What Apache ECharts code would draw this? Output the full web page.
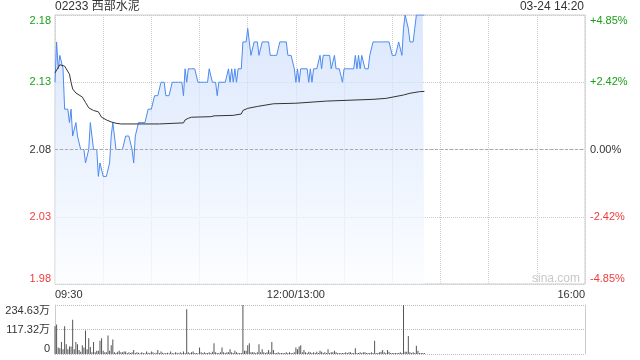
<!DOCTYPE html>
<html><head><meta charset="utf-8">
<script src="https://cdn.jsdelivr.net/npm/echarts@6/dist/echarts.min.js"></script>
<style>html,body{margin:0;padding:0;background:#fff}#c{width:640px;height:360px}</style>
</head><body><div id="c"></div>
<script>
const stockTitle = '02233 西部水泥';
const stamp = '03-24 14:20';
const prevClose = 2.08;
const timeTickMinutes = [0, 150, 330];
const timeTickLabels = ['09:30', '12:00/13:00', '16:00'];
const priceLabels = ['1.98', '2.03', '2.08', '2.13', '2.18'];
const pctLabels = ['-4.85%', '-2.42%', '0.00%', '+2.42%', '+4.85%'];
const volLabels = ['0', '117.32万', '234.63万'];

// price per minute from 09:30 (index = minutes of trading)
const price = [
2.13,2.16,2.14,2.15,2.15,2.14,2.11,2.11,2.11,2.10,
2.11,2.09,2.09,2.10,2.09,2.09,2.08,2.08,2.08,2.07,
2.07,2.08,2.10,2.10,2.08,2.08,2.08,2.06,2.07,2.07,
2.06,2.06,2.06,2.06,2.07,2.09,2.10,2.09,2.08,2.08,
2.08,2.08,2.08,2.08,2.09,2.09,2.09,2.09,2.08,2.07,
2.09,2.09,2.10,2.10,2.10,2.10,2.10,2.10,2.11,2.11,
2.11,2.11,2.12,2.12,2.12,2.12,2.13,2.13,2.13,2.12,
2.12,2.12,2.12,2.13,2.13,2.13,2.13,2.13,2.13,2.13,
2.12,2.14,2.13,2.14,2.14,2.14,2.14,2.14,2.14,2.13,
2.13,2.13,2.13,2.13,2.13,2.13,2.14,2.14,2.13,2.13,
2.13,2.12,2.13,2.13,2.13,2.13,2.13,2.13,2.14,2.13,
2.14,2.13,2.14,2.13,2.14,2.14,2.14,2.16,2.16,2.16,
2.17,2.16,2.15,2.15,2.16,2.16,2.16,2.15,2.15,2.16,
2.16,2.16,2.16,2.16,2.15,2.15,2.15,2.15,2.15,2.15,
2.16,2.16,2.16,2.16,2.16,2.15,2.15,2.15,2.15,2.14,
2.13,2.14,2.13,2.14,2.14,2.14,2.14,2.14,2.13,2.14,
2.13,2.14,2.14,2.14,2.14,2.15,2.14,2.15,2.15,2.15,
2.15,2.15,2.14,2.14,2.15,2.14,2.14,2.14,2.14,2.13,
2.14,2.14,2.14,2.14,2.14,2.14,2.14,2.15,2.14,2.15,
2.14,2.15,2.15,2.14,2.14,2.14,2.15,2.15,2.16,2.16,
2.16,2.16,2.16,2.16,2.16,2.16,2.16,2.16,2.16,2.16,
2.15,2.15,2.15,2.15,2.16,2.16,2.15,2.17,2.18,2.18,
2.17,2.16,2.16,2.16,2.17,2.18,2.18,2.18,2.18,2.18,
2.18
];

const avgMinutes = [0,3,6,9,10,11,13,17,19,21,24,27,29,32,35,38,41,65,66,80,81,83,85,97,99,111,112,116,117,120,126,136,150,169,198,206,217,221,227,230];
const avgValues = [2.137,2.143,2.142,2.136,2.130,2.125,2.122,2.119,2.115,2.111,2.109,2.108,2.104,2.102,2.1005,2.0995,2.099,2.099,2.0998,2.0998,2.102,2.1032,2.104,2.1044,2.105,2.1054,2.106,2.1064,2.109,2.1106,2.112,2.114,2.1144,2.116,2.1173,2.118,2.1205,2.1218,2.123,2.1232];

// volume per minute, in 万
const volume = [
133,141,31,27,58,23,133,47,23,36,
36,164,23,58,47,19,11,42,31,113,
23,75,34,8,58,8,16,16,63,75,
16,8,8,89,16,42,70,8,5,11,
16,8,8,12,12,5,8,5,8,19,
5,8,6,4,8,5,4,12,6,5,
12,8,4,6,19,5,12,6,4,5,
6,4,12,5,4,8,6,4,8,5,
12,5,214,8,5,8,12,5,5,4,
31,8,5,8,5,5,8,5,11,52,
8,5,5,8,31,8,5,8,8,23,
8,5,16,8,5,5,5,234.63,16,16,
42,52,8,8,8,5,8,47,8,23,
8,5,8,19,8,58,19,5,5,8,
5,5,5,5,8,5,8,5,5,8,
31,23,36,42,8,19,8,5,11,8,
5,8,5,11,5,16,11,5,8,5,
23,5,8,8,16,8,5,5,5,5,
5,8,5,8,8,5,5,28,5,5,
8,5,8,8,5,5,5,8,5,63,
5,5,8,11,19,8,5,19,11,5,
5,5,5,5,5,8,5,233,11,11,
86,8,5,8,5,39,16,5,5,5,
5
];

const FONT = 'Arial, "Liberation Sans", "Noto Sans CJK SC", sans-serif';
const UP = '#1a9f1a', DOWN = '#f03c3c', FLAT = '#333';
function colorFor(v, ref) {
  v = parseFloat(v);
  if (Math.abs(v - ref) < 1e-6) return FLAT;
  return v > ref ? UP : DOWN;
}

const chart = echarts.init(document.getElementById('c'), null, {renderer: 'canvas'});
chart.setOption({
  animation: false,
  textStyle: {fontFamily: FONT},
  title: [
    {text: stockTitle, left: 55, top: 1, padding: 0, textStyle: {fontSize: 12, fontWeight: 'normal', color: '#333', fontFamily: FONT}},
    {text: stamp, right: 56, top: 1, padding: 0, textStyle: {fontSize: 12, fontWeight: 'normal', color: '#333', fontFamily: FONT}}
  ],
  graphic: [{type: 'text', left: 532, top: 273, style: {text: 'sina.com', fill: '#c8c8c8', font: '12px ' + FONT}}],
  grid: [
    {left: 55, right: 55, top: 15, height: 269, show: true, borderColor: '#ccc', borderWidth: 1, backgroundColor: 'transparent'},
    {left: 55, right: 55, top: 305, height: 49, show: false}
  ],
  xAxis: [
    {type: 'value', gridIndex: 0, min: 0, max: 330, interval: 30,
     axisLine: {show: false}, axisTick: {show: false},
     splitLine: {show: true, lineStyle: {type: 'dotted', color: '#ccc'}},
     axisLabel: {show: true, margin: 5, fontSize: 11, color: '#333', fontFamily: FONT,
       alignMinLabel: 'left', alignMaxLabel: 'right',
       formatter: v => { const i = timeTickMinutes.indexOf(Math.round(v)); return i >= 0 ? timeTickLabels[i] : ''; }}},
    {type: 'value', gridIndex: 1, min: 0, max: 330, interval: 30,
     axisLine: {show: false}, axisTick: {show: false}, splitLine: {show: false}, axisLabel: {show: false}}
  ],
  yAxis: [
    {type: 'value', gridIndex: 0, position: 'left', min: 1.98, max: 2.18, interval: 0.05,
     axisLine: {show: false}, axisTick: {show: false},
     splitLine: {show: true, lineStyle: {type: 'dotted', color: '#ccc'}},
     axisLabel: {margin: 4, fontSize: 11, fontFamily: FONT,
       verticalAlignMinLabel: 'bottom', verticalAlignMaxLabel: 'top',
       formatter: v => priceLabels[Math.round((v - 1.98) / 0.05)],
       color: v => colorFor(v, prevClose)}},
    {type: 'value', gridIndex: 0, position: 'right', min: -4.85, max: 4.85, interval: 2.425,
     axisLine: {show: false}, axisTick: {show: false}, splitLine: {show: false},
     axisLabel: {margin: 5, fontSize: 11, fontFamily: FONT,
       verticalAlignMinLabel: 'bottom', verticalAlignMaxLabel: 'top',
       formatter: v => pctLabels[Math.round((v + 4.85) / 2.425)],
       color: v => colorFor(v, 0)}},
    {type: 'value', gridIndex: 1, position: 'left', min: 0, max: 234.63, interval: 117.315,
     axisLine: {show: true, lineStyle: {color: '#ccc'}}, axisTick: {show: false},
     splitLine: {show: true, lineStyle: {type: 'dotted', color: '#bbb'}},
     axisLabel: {margin: 5, fontSize: 11, color: '#333', fontFamily: FONT,
       verticalAlignMinLabel: 'bottom', verticalAlignMaxLabel: 'top',
       formatter: v => volLabels[Math.round(v / 117.315)]}},
    {type: 'value', gridIndex: 1, position: 'right', min: 0, max: 234.63, interval: 117.315,
     axisLine: {show: true, lineStyle: {color: '#ccc'}}, axisTick: {show: false},
     splitLine: {show: false}, axisLabel: {show: false}}
  ],
  series: [
    {type: 'line', xAxisIndex: 0, yAxisIndex: 0, data: price.map((p, i) => [i, p]),
     showSymbol: false, symbol: 'none', silent: true,
     lineStyle: {color: '#4d8af0', width: 1},
     areaStyle: {origin: 'start', color: new echarts.graphic.LinearGradient(0, 0, 0, 1, [
       {offset: 0, color: '#cadcfa'}, {offset: 1, color: '#fafcff'}])},
     markLine: {silent: true, symbol: 'none', label: {show: false},
       lineStyle: {type: [3, 2], color: '#aaa', width: 1},
       data: [{yAxis: prevClose}]},
     z: 3},
    {type: 'line', xAxisIndex: 0, yAxisIndex: 0, data: avgMinutes.map((m, i) => [m, avgValues[i]]),
     showSymbol: false, symbol: 'none', silent: true,
     lineStyle: {color: '#333', width: 1}, z: 4},
    {type: 'bar', xAxisIndex: 1, yAxisIndex: 2, data: volume.map((v, i) => [i, v]),
     barWidth: 1, silent: true, itemStyle: {color: '#555'}}
  ]
});
</script></body></html>
